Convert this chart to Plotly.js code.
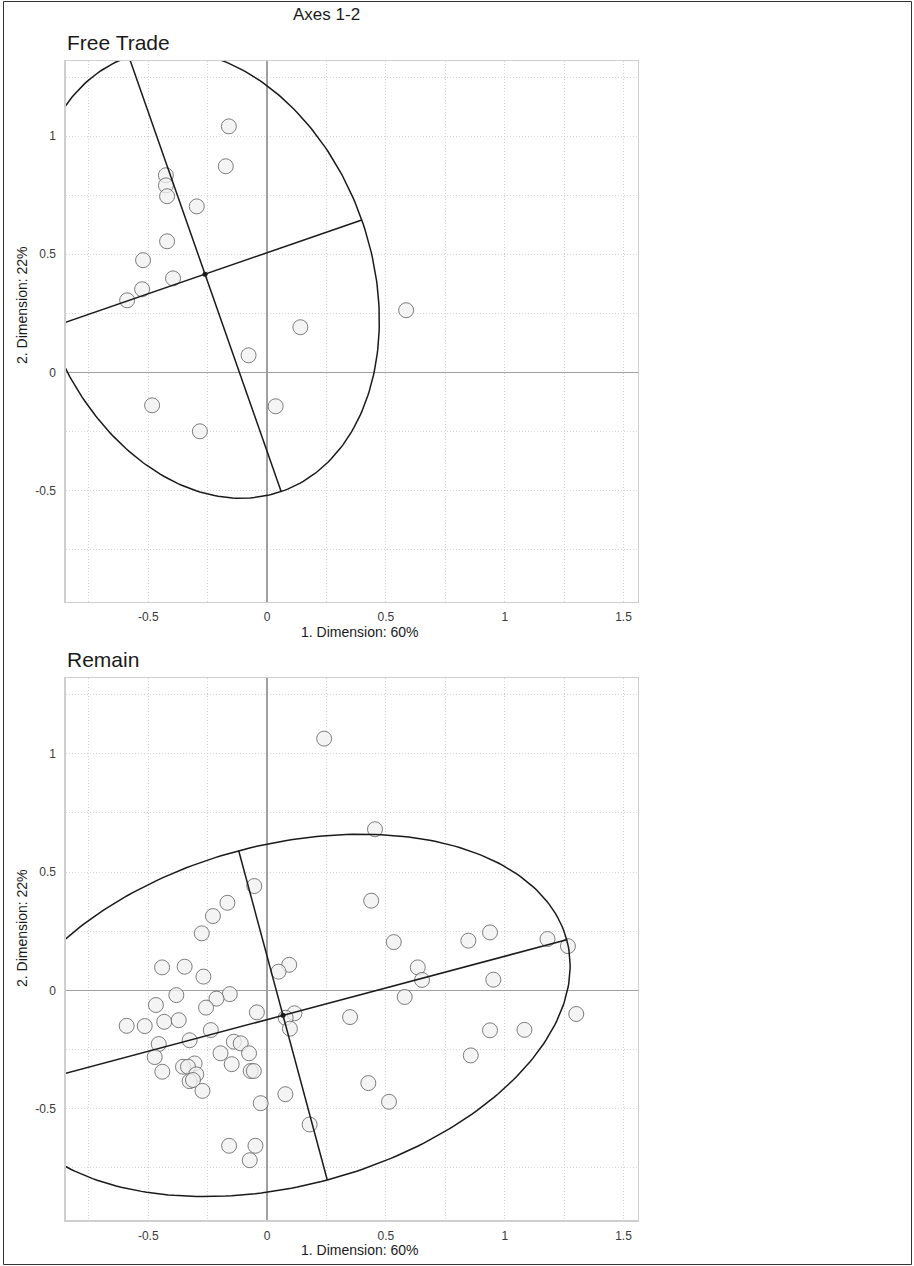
<!DOCTYPE html>
<html>
<head>
<meta charset="utf-8">
<script src="https://cdn.plot.ly/plotly-3.0.1.min.js"></script>
<style>html,body{margin:0;padding:0;background:#fff;}#chart{width:914px;height:1266px;}</style>
</head>
<body>
<div id="chart"></div>
<script>
// ---- Data ----
const figureTitle = "Axes 1-2";
const panelTitles = ["Free Trade", "Remain"];
const xAxisTitle = "1. Dimension: 60%";
const yAxisTitle = "2. Dimension: 22%";
const xTickVals = [-0.5, 0, 0.5, 1, 1.5];
const xTickText = ["-0.5", "0", "0.5", "1", "1.5"];
const yTickVals = [-0.5, 0, 0.5, 1];
const yTickText = ["-0.5", "0", "0.5", "1"];

const freeTradeX = [-0.161, -0.174, -0.426, -0.426, -0.421, -0.296, -0.421, -0.522, -0.396, -0.526, -0.589, 0.585, 0.140, -0.078, -0.484, 0.036, -0.283];
const freeTradeY = [1.042, 0.873, 0.835, 0.792, 0.746, 0.703, 0.555, 0.475, 0.398, 0.352, 0.305, 0.263, 0.191, 0.072, -0.140, -0.144, -0.250];

const remainX = [0.240, 0.454, -0.054, 0.438, -0.167, -0.228, -0.275, 0.938, 1.180, 0.847, 0.533, 1.266, 0.093, -0.347, -0.442, 0.634, 0.048, -0.268, 0.652, 0.952,
  -0.382, -0.157, 0.579, -0.213, -0.468, -0.257, -0.043, 0.115, 1.301, 0.078, 0.349, -0.433, -0.372, -0.591, -0.515, 0.096, -0.237, 0.938, 1.083, -0.326,
  -0.140, -0.111, -0.456, -0.196, -0.076, 0.857, -0.473, -0.305, -0.149, -0.354, -0.333, -0.069, -0.056, -0.441, -0.298, -0.326, -0.312, 0.426, -0.272, 0.077,
  0.513, -0.027, 0.179, -0.160, -0.049, -0.073];
const remainY = [1.064, 0.681, 0.441, 0.379, 0.370, 0.314, 0.241, 0.245, 0.217, 0.210, 0.204, 0.187, 0.108, 0.100, 0.097, 0.097, 0.079, 0.058, 0.044, 0.045,
  -0.020, -0.016, -0.028, -0.035, -0.062, -0.073, -0.093, -0.097, -0.100, -0.116, -0.113, -0.133, -0.126, -0.150, -0.151, -0.162, -0.168, -0.169, -0.167, -0.211,
  -0.217, -0.224, -0.227, -0.266, -0.266, -0.275, -0.282, -0.309, -0.312, -0.323, -0.323, -0.341, -0.341, -0.344, -0.355, -0.384, -0.379, -0.392, -0.425, -0.439,
  -0.471, -0.477, -0.567, -0.657, -0.657, -0.718];

// 95% data ellipse (chi-square, 2 df)
const ellipseChi2 = 5.991;

// ---- Derived: confidence ellipse + principal axes from the point data ----
function dataEllipse(xs, ys) {
  const n = xs.length;
  const mx = xs.reduce((a, b) => a + b, 0) / n;
  const my = ys.reduce((a, b) => a + b, 0) / n;
  let sxx = 0, syy = 0, sxy = 0;
  for (let i = 0; i < n; i++) {
    const dx = xs[i] - mx, dy = ys[i] - my;
    sxx += dx * dx; syy += dy * dy; sxy += dx * dy;
  }
  const a = sxx / (n - 1), c = syy / (n - 1), b = sxy / (n - 1);
  const half = (a + c) / 2;
  const disc = Math.sqrt(((a - c) / 2) ** 2 + b * b);
  const l1 = half + disc, l2 = half - disc;
  let v1x = b, v1y = l1 - a;
  if (Math.abs(v1x) < 1e-12 && Math.abs(v1y) < 1e-12) { v1x = a >= c ? 1 : 0; v1y = a >= c ? 0 : 1; }
  const nrm = Math.hypot(v1x, v1y);
  v1x /= nrm; v1y /= nrm;
  const v2x = -v1y, v2y = v1x;
  const k = Math.sqrt(ellipseChi2);
  const r1 = k * Math.sqrt(l1), r2 = k * Math.sqrt(l2);
  const ex = [], ey = [];
  const N = 300;
  for (let i = 0; i <= N; i++) {
    const t = 2 * Math.PI * i / N;
    ex.push(mx + r1 * Math.cos(t) * v1x + r2 * Math.sin(t) * v2x);
    ey.push(my + r1 * Math.cos(t) * v1y + r2 * Math.sin(t) * v2y);
  }
  return {
    cx: mx, cy: my, ex, ey,
    majX: [mx - r1 * v1x, mx + r1 * v1x], majY: [my - r1 * v1y, my + r1 * v1y],
    minX: [mx - r2 * v2x, mx + r2 * v2x], minY: [my - r2 * v2y, my + r2 * v2y]
  };
}

const FONT = "Liberation Sans, Arial, Helvetica, sans-serif";
const W = 914, H = 1266;

function panelTraces(xs, ys, xa, ya) {
  const e = dataEllipse(xs, ys);
  const lineStyle = {color: "#1a1a1a", width: 1.5};
  return [
    {type: "scatter", mode: "markers", x: xs, y: ys, xaxis: xa, yaxis: ya, hoverinfo: "x+y",
     marker: {size: 15, color: "rgba(240,240,240,0.75)", line: {color: "rgba(95,95,95,0.9)", width: 0.9}}},
    {type: "scatter", mode: "lines", x: e.ex, y: e.ey, xaxis: xa, yaxis: ya, line: lineStyle, hoverinfo: "skip"},
    {type: "scatter", mode: "lines", x: e.majX, y: e.majY, xaxis: xa, yaxis: ya, line: lineStyle, hoverinfo: "skip"},
    {type: "scatter", mode: "lines", x: e.minX, y: e.minY, xaxis: xa, yaxis: ya, line: lineStyle, hoverinfo: "skip"},
    {type: "scatter", mode: "markers", x: [e.cx], y: [e.cy], xaxis: xa, yaxis: ya, hoverinfo: "skip",
     marker: {size: 5, color: "#1a1a1a"}}
  ];
}

const traces = [].concat(
  panelTraces(freeTradeX, freeTradeY, "x", "y"),
  panelTraces(remainX, remainY, "x2", "y2")
);

// pixel geometry of the two plot areas
const plotLeft = 65.6, plotRight = 637.8;
const panels = [{top: 61, bottom: 601.7, ytitle: 305}, {top: 678.3, bottom: 1220.3, ytitle: 928}];
const xRange = [-0.848, 1.56];
const yRange = [-0.972, 1.319];

const GRID = "#d6d6d6";
const DASH = "1px,2px";

function xAxis(anchor) {
  return {
    domain: [plotLeft / W, plotRight / W], anchor: anchor, range: xRange, automargin: false,
    tickmode: "array", tickvals: xTickVals, ticktext: xTickText,
    ticks: "outside", ticklen: 4, tickcolor: "rgba(0,0,0,0)",
    tickfont: {family: FONT, size: 12, color: "#3a3a3a"},
    showgrid: true, gridcolor: GRID, griddash: DASH, gridwidth: 1,
    minor: {dtick: 0.25, tick0: 0, showgrid: true, gridcolor: GRID, griddash: DASH, gridwidth: 1, ticks: ""},
    zeroline: true, zerolinecolor: "#a0a0a0", zerolinewidth: 1.5,
    showline: true, mirror: true, linecolor: "#cfcfcf", linewidth: 1.2,
    fixedrange: true
  };
}
function yAxis(anchor, p) {
  return {
    domain: [1 - p.bottom / H, 1 - p.top / H], anchor: anchor, range: yRange, automargin: false,
    tickmode: "array", tickvals: yTickVals, ticktext: yTickText,
    ticks: "outside", ticklen: 6, tickcolor: "rgba(0,0,0,0)",
    tickfont: {family: FONT, size: 12, color: "#3a3a3a"},
    showgrid: true, gridcolor: GRID, griddash: DASH, gridwidth: 1,
    minor: {dtick: 0.25, tick0: 0, showgrid: true, gridcolor: GRID, griddash: DASH, gridwidth: 1, ticks: ""},
    zeroline: true, zerolinecolor: "#a0a0a0", zerolinewidth: 1.5,
    showline: true, mirror: true, linecolor: "#cfcfcf", linewidth: 1.2,
    fixedrange: true
  };
}

function px2paperX(px) { return px / W; }
function px2paperY(py) { return 1 - py / H; }

const annotations = [
  {text: figureTitle, x: px2paperX(326), y: px2paperY(15), xanchor: "center", yanchor: "middle",
   font: {family: FONT, size: 17, color: "#1a1a1a"}},
];
panels.forEach((p, i) => {
  annotations.push({text: panelTitles[i], x: px2paperX(plotLeft - 1), y: px2paperY(p.top - 19), xanchor: "left", yanchor: "middle",
    font: {family: FONT, size: 21, color: "#1a1a1a"}});
  annotations.push({text: xAxisTitle, x: px2paperX(360), y: px2paperY(p.bottom + 30), xanchor: "center", yanchor: "middle",
    font: {family: FONT, size: 14, color: "#1a1a1a"}});
  annotations.push({text: yAxisTitle, x: px2paperX(22), y: px2paperY(p.ytitle), xanchor: "center", yanchor: "middle",
    textangle: -90, font: {family: FONT, size: 14, color: "#1a1a1a"}});
});
annotations.forEach(a => { a.xref = "paper"; a.yref = "paper"; a.showarrow = false; });

const layout = {
  width: W, height: H,
  margin: {l: 0, r: 0, t: 0, b: 0, pad: 0},
  paper_bgcolor: "#ffffff", plot_bgcolor: "#ffffff",
  showlegend: false,
  font: {family: FONT, color: "#1a1a1a"},
  xaxis: xAxis("y"), yaxis: yAxis("x", panels[0]),
  xaxis2: xAxis("y2"), yaxis2: yAxis("x2", panels[1]),
  annotations: annotations,
  shapes: [{type: "rect", xref: "paper", yref: "paper",
    x0: px2paperX(3.5), x1: px2paperX(911.5), y0: px2paperY(1264.5), y1: px2paperY(1.5),
    line: {color: "#333333", width: 1}, fillcolor: "rgba(0,0,0,0)", layer: "above"}]
};

Plotly.newPlot("chart", traces, layout, {displayModeBar: false, staticPlot: true});
</script>
</body>
</html>
